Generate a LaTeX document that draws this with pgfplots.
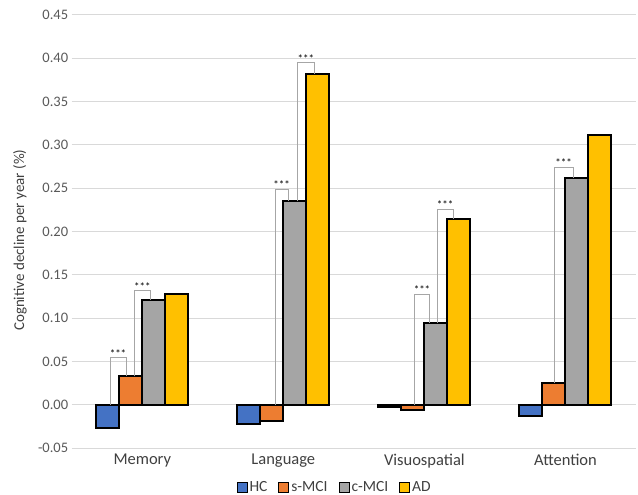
\documentclass[border=0pt]{standalone}
\usepackage{pgfplots}
\pgfplotsset{compat=1.18}
\usepackage{fontspec}
\setmainfont{Carlito}
\definecolor{hc}{HTML}{4472C4}
\definecolor{smci}{HTML}{ED7D31}
\definecolor{cmci}{HTML}{A5A5A5}
\definecolor{ad}{HTML}{FFC000}
\definecolor{gridc}{HTML}{D9D9D9}
\definecolor{tickc}{HTML}{595959}
\definecolor{labc}{HTML}{404040}
\definecolor{brk}{HTML}{A6A6A6}
\begin{document}
\begin{tikzpicture}
\begin{axis}[
  scale only axis, width=564pt, height=433pt,
  xmin=-0.5, xmax=3.5, ymin=-0.05, ymax=0.45,
  ytick={-0.05,0,0.05,0.10,0.15,0.20,0.25,0.30,0.35,0.40,0.45},
  /pgf/number format/assume math mode=true,
  yticklabel style={/pgf/number format/fixed, /pgf/number format/fixed zerofill, /pgf/number format/precision=2, font=\fontsize{14.5}{14.5}\selectfont, text=tickc},
  xtick={0,1,2,3}, xticklabels={Memory,Language,Visuospatial,Attention},
  xticklabel style={font=\fontsize{16.5}{16.5}\selectfont, text=labc, yshift=-2pt},
  ymajorgrids, grid style={gridc, line width=1pt},
  axis line style={draw=none},
  major tick length=0pt,
  ylabel={Cognitive decline per year (\%)},
  ylabel style={font=\fontsize{15}{15}\selectfont, text=labc, at={(axis description cs:-0.0917,0.48)}, anchor=center},
  ybar, bar width=0.163,
  legend columns=4,
  legend style={draw=none, fill=none, at={(axis description cs:0.466,-0.09)}, anchor=center, font=\fontsize{15.5}{15.5}\selectfont, text=labc, /tikz/every even column/.append style={column sep=9pt}},
  legend image code/.code={\draw[#1, draw=black, line width=0.9pt] (0pt,-5pt) rectangle (10pt,5pt);},
]
\addplot[draw=black, line width=2pt, fill=hc, bar shift=-0.2445] coordinates {(0,-0.027) (1,-0.022) (2,-0.003) (3,-0.013)};
\addplot[draw=black, line width=2pt, fill=smci, bar shift=-0.0815] coordinates {(0,0.033) (1,-0.019) (2,-0.006) (3,0.025)};
\addplot[draw=black, line width=2pt, fill=cmci, bar shift=0.0815] coordinates {(0,0.121) (1,0.235) (2,0.095) (3,0.262)};
\addplot[draw=black, line width=2pt, fill=ad, bar shift=0.2445] coordinates {(0,0.128) (1,0.382) (2,0.214) (3,0.311)};
\legend{HC,s-MCI,c-MCI,AD}
\tikzset{br/.style={draw=brk, line width=0.8pt}, st/.style={font=\fontsize{11}{11}\selectfont, inner sep=0.3pt, anchor=south, text=black}}
\draw[br] (axis cs:-0.228,0) -- (axis cs:-0.228,0.0546) -- (axis cs:-0.115,0.0546) -- (axis cs:-0.115,0.033);
\node[st] at (axis cs:-0.172,0.0546) {***};
\draw[br] (axis cs:-0.058,0.033) -- (axis cs:-0.058,0.132) -- (axis cs:0.060,0.132) -- (axis cs:0.060,0.121);
\node[st] at (axis cs:0.001,0.132) {***};
\draw[br] (axis cs:0.942,0) -- (axis cs:0.942,0.249) -- (axis cs:1.034,0.249) -- (axis cs:1.034,0.235);
\node[st] at (axis cs:0.988,0.249) {***};
\draw[br] (axis cs:1.103,0.235) -- (axis cs:1.103,0.395) -- (axis cs:1.218,0.395) -- (axis cs:1.218,0.382);
\node[st] at (axis cs:1.160,0.395) {***};
\draw[br] (axis cs:1.930,0) -- (axis cs:1.930,0.1277) -- (axis cs:2.036,0.1277) -- (axis cs:2.036,0.095);
\node[st] at (axis cs:1.983,0.1277) {***};
\draw[br] (axis cs:2.093,0.095) -- (axis cs:2.093,0.226) -- (axis cs:2.202,0.226) -- (axis cs:2.202,0.214);
\node[st] at (axis cs:2.147,0.226) {***};
\draw[br] (axis cs:2.921,0.025) -- (axis cs:2.921,0.274) -- (axis cs:3.053,0.274) -- (axis cs:3.053,0.262);
\node[st] at (axis cs:2.987,0.274) {***};
\coordinate (bl) at (rel axis cs:0,0);
\coordinate (tr) at (rel axis cs:1,1);
\end{axis}
\pgfresetboundingbox
\path ([shift={(-71.7pt,-46pt)}]bl) rectangle ([shift={(2pt,15pt)}]tr);
\end{tikzpicture}
\end{document}
